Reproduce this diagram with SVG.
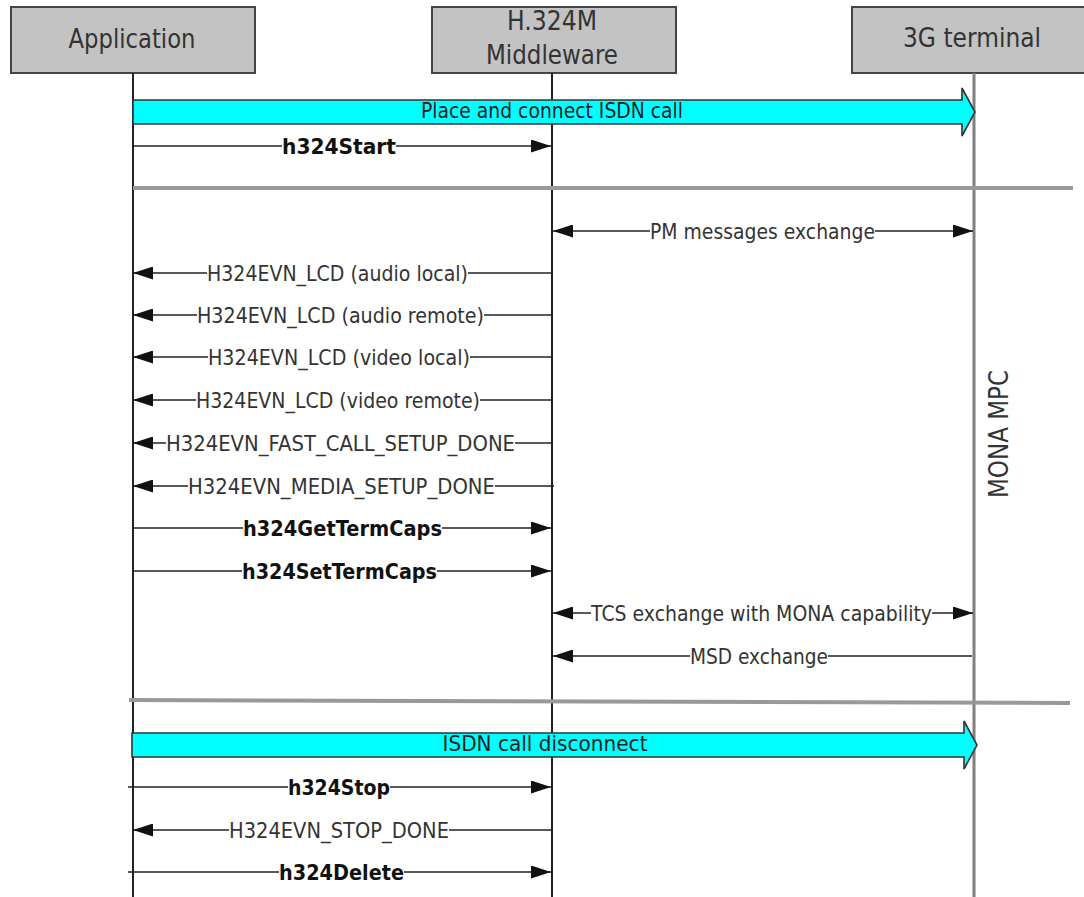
<svg xmlns="http://www.w3.org/2000/svg" width="1084" height="897" viewBox="0 0 1084 897">
<style>
.box{fill:#c3c3c3;stroke:#444;stroke-width:2}
.hdr{font-family:"DejaVu Sans",sans-serif;font-size:26px;fill:#333;text-anchor:middle}
.life{stroke:#222;stroke-width:2;fill:none}
.life3{stroke:#808080;stroke-width:3;fill:none}
.msg{stroke:#222;stroke-width:1.7;fill:none}
.lbl{font-family:"DejaVu Sans",sans-serif;font-size:22px;fill:#333;text-anchor:middle}
.bold{font-weight:bold;fill:#111}
.bg{fill:#fff}
.sep{stroke:#999;stroke-width:4;fill:none}
.bar{fill:#00ffff;stroke:#333;stroke-width:1.6}
.barlbl{font-family:"DejaVu Sans",sans-serif;font-size:21px;fill:#222;text-anchor:middle}
</style>
<defs>
<marker id="ah" viewBox="0 0 20 13" refX="20" refY="6.5" markerWidth="20" markerHeight="13" markerUnits="userSpaceOnUse" orient="auto-start-reverse">
<path d="M0,0 L20,6.5 L0,13 Z" fill="#111"/>
</marker>
</defs>
<rect width="1084" height="897" fill="#fff"/>

<g id="node-application">
<rect class="box" x="11" y="7" width="244" height="66"/>
<text class="hdr" x="132" y="48" textLength="127" lengthAdjust="spacingAndGlyphs">Application</text>
<line class="life" x1="133" y1="73" x2="133" y2="897"/>
</g>
<g id="node-middleware">
<rect class="box" x="432" y="7" width="244" height="66"/>
<text class="hdr" x="552" y="30" textLength="90" lengthAdjust="spacingAndGlyphs">H.324M</text>
<text class="hdr" x="552" y="64" textLength="132" lengthAdjust="spacingAndGlyphs">Middleware</text>
<line class="life" x1="552" y1="73" x2="552" y2="897"/>
</g>
<g id="node-3g">
<rect class="box" x="852" y="7" width="246" height="66"/>
<text class="hdr" x="972" y="47" textLength="138" lengthAdjust="spacingAndGlyphs">3G terminal</text>
<line class="life3" x1="974" y1="73" x2="974" y2="897"/>
<text class="hdr" transform="translate(1008,434) rotate(-90)" x="0" y="0" textLength="128" lengthAdjust="spacingAndGlyphs">MONA MPC</text>
</g>

<g id="separators">
<line class="sep" x1="133" y1="188" x2="1073" y2="188"/>
<line class="sep" x1="129" y1="700" x2="1070" y2="703"/>
</g>

<g id="connectors">
<g id="c-place">
<path class="bar" d="M133,100 L962,100 L962,88 L975,112 L962,136 L962,124 L133,124 Z"/>
<text class="barlbl" x="552" y="118" textLength="262" lengthAdjust="spacingAndGlyphs">Place and connect ISDN call</text>
</g>
<g id="c-h324start">
<line class="msg" x1="133" y1="146" x2="551" y2="146" marker-end="url(#ah)"/>
<rect class="bg" x="282" y="135" width="114" height="22"/>
<text class="lbl bold" x="339" y="154" textLength="114" lengthAdjust="spacingAndGlyphs">h324Start</text>
</g>
<g id="c-pm">
<line class="msg" x1="553" y1="231" x2="973" y2="231" marker-start="url(#ah)" marker-end="url(#ah)"/>
<rect class="bg" x="650" y="220" width="225" height="22"/>
<text class="lbl" x="762.5" y="239" textLength="225" lengthAdjust="spacingAndGlyphs">PM messages exchange</text>
</g>
<g id="c-audio-local">
<line class="msg" x1="551" y1="273" x2="133" y2="273" marker-end="url(#ah)"/>
<rect class="bg" x="207" y="262" width="261" height="22"/>
<text class="lbl" x="337.5" y="281" textLength="261" lengthAdjust="spacingAndGlyphs">H324EVN_LCD (audio local)</text>
</g>
<g id="c-audio-remote">
<line class="msg" x1="551" y1="315" x2="133" y2="315" marker-end="url(#ah)"/>
<rect class="bg" x="197" y="304" width="287" height="22"/>
<text class="lbl" x="340.5" y="323" textLength="287" lengthAdjust="spacingAndGlyphs">H324EVN_LCD (audio remote)</text>
</g>
<g id="c-video-local">
<line class="msg" x1="551" y1="357" x2="133" y2="357" marker-end="url(#ah)"/>
<rect class="bg" x="208" y="346" width="262" height="22"/>
<text class="lbl" x="339" y="365" textLength="262" lengthAdjust="spacingAndGlyphs">H324EVN_LCD (video local)</text>
</g>
<g id="c-video-remote">
<line class="msg" x1="551" y1="400" x2="133" y2="400" marker-end="url(#ah)"/>
<rect class="bg" x="196" y="389" width="284" height="22"/>
<text class="lbl" x="338" y="408" textLength="284" lengthAdjust="spacingAndGlyphs">H324EVN_LCD (video remote)</text>
</g>
<g id="c-fast">
<line class="msg" x1="551" y1="443" x2="133" y2="443" marker-end="url(#ah)"/>
<rect class="bg" x="166" y="432" width="349" height="22"/>
<text class="lbl" x="340.5" y="451" textLength="349" lengthAdjust="spacingAndGlyphs">H324EVN_FAST_CALL_SETUP_DONE</text>
</g>
<g id="c-media">
<line class="msg" x1="554" y1="486" x2="133" y2="486" marker-end="url(#ah)"/>
<rect class="bg" x="188" y="475" width="307" height="22"/>
<text class="lbl" x="341.5" y="494" textLength="307" lengthAdjust="spacingAndGlyphs">H324EVN_MEDIA_SETUP_DONE</text>
</g>
<g id="c-get">
<line class="msg" x1="133" y1="528" x2="551" y2="528" marker-end="url(#ah)"/>
<rect class="bg" x="243" y="517" width="199" height="22"/>
<text class="lbl bold" x="342.5" y="536" textLength="199" lengthAdjust="spacingAndGlyphs">h324GetTermCaps</text>
</g>
<g id="c-set">
<line class="msg" x1="133" y1="571" x2="551" y2="571" marker-end="url(#ah)"/>
<rect class="bg" x="242" y="560" width="195" height="22"/>
<text class="lbl bold" x="339.5" y="579" textLength="195" lengthAdjust="spacingAndGlyphs">h324SetTermCaps</text>
</g>
<g id="c-tcs">
<line class="msg" x1="553" y1="613" x2="973" y2="613" marker-start="url(#ah)" marker-end="url(#ah)"/>
<rect class="bg" x="591" y="602" width="341" height="22"/>
<text class="lbl" x="761.5" y="621" textLength="341" lengthAdjust="spacingAndGlyphs">TCS exchange with MONA capability</text>
</g>
<g id="c-msd">
<line class="msg" x1="972" y1="656" x2="553" y2="656" marker-end="url(#ah)"/>
<rect class="bg" x="690" y="645" width="138" height="22"/>
<text class="lbl" x="759" y="664" textLength="138" lengthAdjust="spacingAndGlyphs">MSD exchange</text>
</g>
<g id="c-disconnect">
<path class="bar" d="M132,733 L964,733 L964,721 L977,745 L964,769 L964,757 L132,757 Z"/>
<text class="barlbl" x="545" y="751" textLength="205" lengthAdjust="spacingAndGlyphs">ISDN call disconnect</text>
</g>
<g id="c-stop">
<line class="msg" x1="128" y1="787" x2="551" y2="787" marker-end="url(#ah)"/>
<rect class="bg" x="288" y="776" width="102" height="22"/>
<text class="lbl bold" x="339" y="795" textLength="102" lengthAdjust="spacingAndGlyphs">h324Stop</text>
</g>
<g id="c-stopdone">
<line class="msg" x1="553" y1="830" x2="133" y2="830" marker-end="url(#ah)"/>
<rect class="bg" x="229" y="819" width="220" height="22"/>
<text class="lbl" x="339" y="838" textLength="220" lengthAdjust="spacingAndGlyphs">H324EVN_STOP_DONE</text>
</g>
<g id="c-delete">
<line class="msg" x1="128" y1="872" x2="551" y2="872" marker-end="url(#ah)"/>
<rect class="bg" x="279" y="861" width="125" height="22"/>
<text class="lbl bold" x="341.5" y="880" textLength="125" lengthAdjust="spacingAndGlyphs">h324Delete</text>
</g>
</g>
</svg>
